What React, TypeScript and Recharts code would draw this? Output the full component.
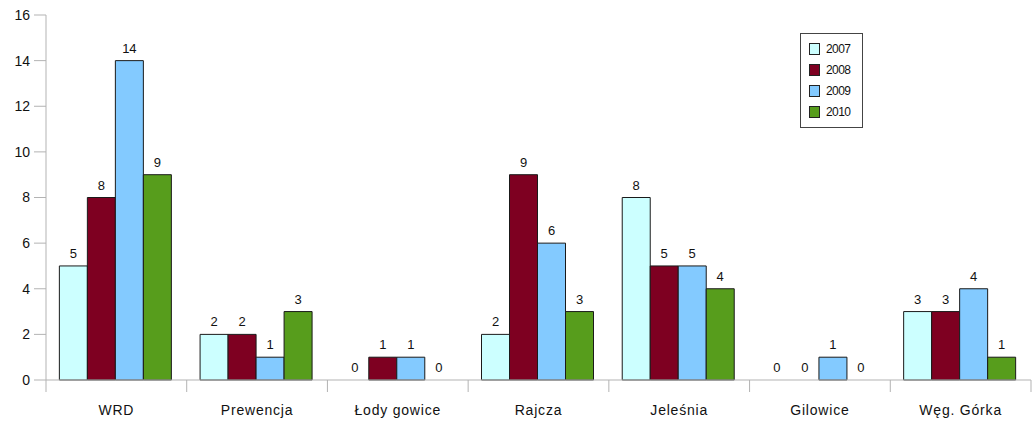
import React from 'react';
import { BarChart, Bar, XAxis, YAxis, LabelList, Rectangle } from 'recharts';

// Kategorie i wartości
const categories = ['WRD', 'Prewencja', 'Łody gowice', 'Rajcza', 'Jeleśnia', 'Gilowice', 'Węg. Górka'];
const values2007 = [5, 2, 0, 2, 8, 0, 3];
const values2008 = [8, 2, 1, 9, 5, 0, 3];
const values2009 = [14, 1, 1, 6, 5, 1, 4];
const values2010 = [9, 3, 0, 3, 4, 0, 1];
const yTicks = [0, 2, 4, 6, 8, 10, 12, 14, 16];

const series = [
  { key: '2007', color: '#ccffff' },
  { key: '2008', color: '#7e0021' },
  { key: '2009', color: '#83caff' },
  { key: '2010', color: '#579d1c' },
];

const data = categories.map((name, i) => ({
  name,
  '2007': values2007[i],
  '2008': values2008[i],
  '2009': values2009[i],
  '2010': values2010[i],
}));

const axisGray = '#b3b3b3';
const font = '"Liberation Sans", Arial, sans-serif';

// etykieta kategorii + znaczniki na granicach kategorii
const CategoryTick = (props: any) => {
  const { x, y, payload, index } = props;
  const half = payload.offset || 0;
  const last = index === categories.length - 1;
  return (
    <g>
      <line x1={x - half} x2={x - half} y1={y} y2={y + 12} stroke={axisGray} />
      {last && <line x1={x + half} x2={x + half} y1={y} y2={y + 12} stroke={axisGray} />}
      <text
        x={x}
        y={y + 35}
        textAnchor="middle"
        fill="#111"
        style={{ fontSize: 14, fontFamily: font, letterSpacing: 0.8 }}
      >
        {payload.value}
      </text>
    </g>
  );
};

// słupki o wartości 0 nie są rysowane, ale etykieta zostaje
const BarShape = (props: any) => {
  if (!props.value) return <g />;
  return <Rectangle {...props} />;
};

export default function App() {
  return (
    <div style={{ position: 'absolute', left: 0, top: 0, width: 1034, height: 423, background: '#fff' }}>
      <BarChart
        width={1034}
        height={423}
        data={data}
        margin={{ top: 15, right: 3, left: 0, bottom: 0 }}
        barCategoryGap="9.5%"
        barGap={0}
      >
        <XAxis
          dataKey="name"
          height={43}
          tickLine={false}
          tickSize={0}
          tickMargin={0}
          axisLine={{ stroke: axisGray }}
          interval={0}
          tick={<CategoryTick />}
        />
        <YAxis
          width={46}
          domain={[0, 16]}
          ticks={yTicks}
          interval={0}
          tickSize={12}
          tickMargin={4}
          tickLine={{ stroke: axisGray }}
          axisLine={{ stroke: axisGray }}
          tick={{ fontSize: 14, fill: '#111', fontFamily: font }}
        />
        {series.map((s) => (
          <Bar
            key={s.key}
            dataKey={s.key}
            fill={s.color}
            stroke="#1a1a1a"
            strokeWidth={1}
            minPointSize={(v: number) => (v === 0 ? 0.01 : 0)}
            shape={<BarShape />}
            isAnimationActive={false}
          >
            <LabelList
              dataKey={s.key}
              position="top"
              offset={8}
              fill="#111"
              style={{ fontSize: 13, fontFamily: font }}
            />
          </Bar>
        ))}
      </BarChart>
      <div
        style={{
          position: 'absolute',
          left: 800,
          top: 33,
          border: '1px solid #444',
          background: '#fff',
          width: 63,
          height: 95,
          boxSizing: 'border-box',
          padding: '4px 0 0 8px',
          fontFamily: font,
          fontSize: 12,
          letterSpacing: -0.6,
          color: '#111',
        }}
      >
        {series.map((s) => (
          <div key={s.key} style={{ display: 'flex', alignItems: 'center', height: 21 }}>
            <div
              style={{
                width: 9,
                height: 10,
                background: s.color,
                border: '1px solid #222',
                marginRight: 6,
              }}
            />
            <span>{s.key}</span>
          </div>
        ))}
      </div>
    </div>
  );
}
